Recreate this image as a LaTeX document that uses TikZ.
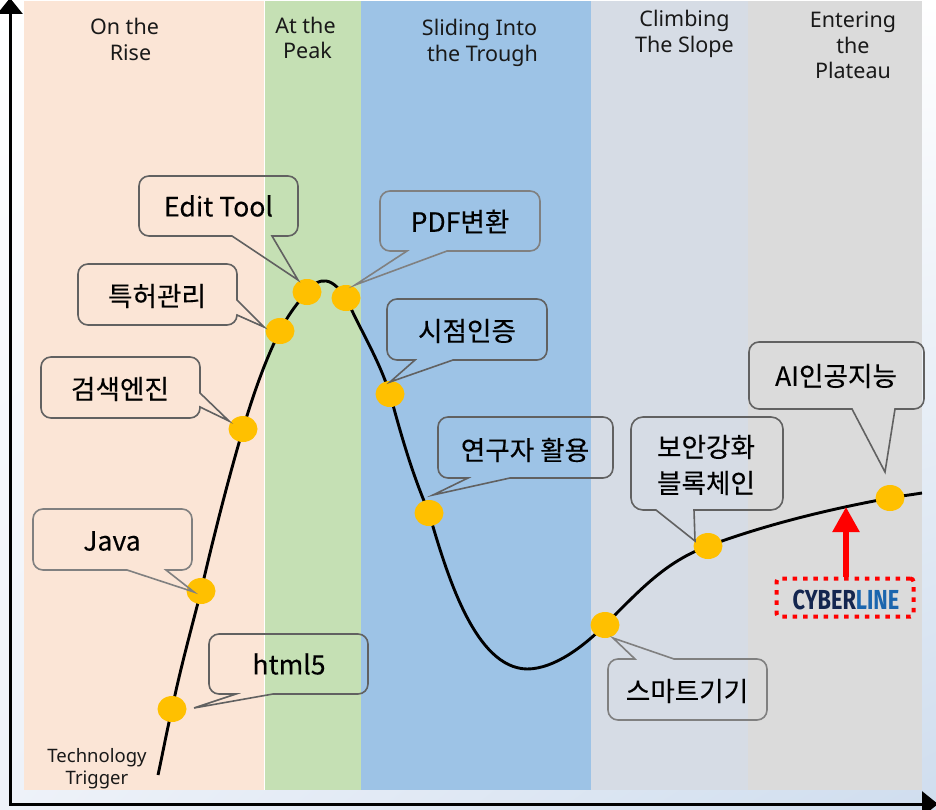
\documentclass[tikz,border=0pt]{standalone}
\usepackage{fontspec}
\setmainfont{Noto Sans}
\newfontfamily\kr[FakeBold=0.25]{Noto Sans CJK KR}
\newfontfamily\logo{Fira Sans}
\usetikzlibrary{arrows.meta,shapes.geometric,shadings}
\definecolor{cpink}{HTML}{FBE5D6}
\definecolor{cgreen}{HTML}{C5E0B4}
\definecolor{cblue}{HTML}{9DC3E6}
\definecolor{cslate}{HTML}{D6DCE5}
\definecolor{cgray}{HTML}{DBDBDB}
\definecolor{cdot}{HTML}{FFC000}
\definecolor{cnavy}{HTML}{14264F}
\definecolor{cline}{HTML}{1B66AE}
\definecolor{bgcorner}{HTML}{CFDDEE}
\definecolor{bgleft}{HTML}{EEF2F9}
\tikzset{
  x=1pt,y=-1pt,
  panel/.style={fill=#1,draw=none},
  axisline/.style={line width=3pt,black,-{Triangle[length=16pt,width=25pt]}},
  curveline/.style={line width=2.9pt,black,line cap=butt},
  dot/.style={ellipse,fill=cdot,draw=none,minimum width=29pt,minimum height=26pt,inner sep=0pt},
  callout/.style={draw=#1,line width=1.6pt,line join=miter},
  callout/.default={black!62},
  ctext/.style={font=\kr\fontsize{26.6}{36}\selectfont,inner sep=0pt,align=center,text=black},
  phase/.style={font=\fontsize{21.5}{25.5}\selectfont,inner sep=0pt,align=center,text=black!90},
}
\begin{document}
\begin{tikzpicture}
\useasboundingbox (0,0) rectangle (936,810);
\shade[upper left=white,upper right=white,lower left=bgleft,lower right=bgcorner] (0,0) rectangle (936,810);
% panels
\fill[panel=cpink] (24,1) rectangle (263.5,790);
\fill[white] (263.5,1) rectangle (265,790);
\fill[panel=cgreen] (265,1) rectangle (361,790);
\fill[panel=cblue] (361,1) rectangle (591,790);
\fill[panel=cslate] (591,1) rectangle (748,790);
\fill[panel=cgray] (748,1) rectangle (922,790);
% axes
\coordinate (origin) at (10,804);
\coordinate (ytip) at (10,-2);
\coordinate (xtip) at (938,804);
\draw[axisline] (10,805.5) -- (ytip);
\draw[axisline] (origin) -- (xtip);
% anchor points on the curve
\coordinate (c1) at (172,709);
\coordinate (c2) at (201,591);
\coordinate (c3) at (243,429);
\coordinate (c4) at (280,331);
\coordinate (c5) at (307,292);
\coordinate (c6) at (346,298);
\coordinate (c7) at (390,394);
\coordinate (c8) at (429,513);
\coordinate (c9) at (605,625);
\coordinate (c10) at (708,546);
\coordinate (c11) at (890,498);
\coordinate (start) at (158,775);
\coordinate (end) at (922,493);
% curve
\draw[curveline] (start) .. controls (163,752) and (167,730) .. (c1)
  .. controls (180,670) and (191,630) .. (c2)
  .. controls (214,535) and (228,480) .. (c3)
  .. controls (253,395) and (266,358) .. (c4)
  .. controls (288,315) and (298,302) .. (c5)
  .. controls (312,284) and (320,280) .. (326,281)
  .. controls (334,282) and (340,290) .. (c6)
  .. controls (363,335) and (378,358) .. (c7)
  .. controls (405,450) and (415,480) .. (c8)
  .. controls (447,575) and (475,668) .. (527,669)
  .. controls (555,669) and (585,645) .. (c9)
  .. controls (640,590) and (665,562) .. (c10)
  .. controls (765,525) and (825,510) .. (c11)
  .. controls (900,496) and (910,495) .. (end);
% dots
\foreach \i in {1,...,11} \node[dot] (d\i) at (c\i) {};
% callouts
\draw[callout] (298,280) -- (232,236) [rounded corners=10pt] -- (139,236) -- (139,176) -- (298,176) -- (298,236) [sharp corners] -- (272,236) -- cycle;
\draw[callout] (264,327) -- (237,315) [rounded corners=10pt] -- (237,325) -- (78,325) -- (78,264) -- (237,264) [sharp corners] -- (237,300) -- cycle;
\draw[callout] (229,421) -- (200,407) [rounded corners=10pt] -- (200,418) -- (41,418) -- (41,357) -- (200,357) [sharp corners] -- (200,393) -- cycle;
\draw[callout=black!50] (194,592) -- (127,570) [rounded corners=10pt] -- (33,570) -- (33,509) -- (192,509) -- (192,570) [sharp corners] -- (166,570) -- cycle;
\draw[callout] (194,708) -- (236,694) [rounded corners=10pt] -- (209,694) -- (209,634) -- (368,634) -- (368,694) [sharp corners] -- (273,694) -- cycle;
\draw[callout=black!50] (355,285) -- (407,251) [rounded corners=10pt] -- (380,251) -- (380,191) -- (540,191) -- (540,251) [sharp corners] -- (447,251) -- cycle;
\draw[callout] (390,382) -- (415,360) [rounded corners=10pt] -- (387,360) -- (387,299) -- (547,299) -- (547,360) [sharp corners] -- (453,360) -- cycle;
\draw[callout] (433,495) -- (468,478) [rounded corners=10pt] -- (438,478) -- (438,417) -- (613,417) -- (613,478) [sharp corners] -- (510,478) -- cycle;
\draw[callout] (695,541) -- (656,510) [rounded corners=12pt] -- (631,510) -- (631,417) -- (783,417) -- (783,510) [sharp corners] -- (694,510) -- cycle;
\draw[callout=black!50] (613,638) -- (635,659) [rounded corners=10pt] -- (608,659) -- (608,720) -- (767,720) -- (767,659) [sharp corners] -- (674,659) -- cycle;
\draw[callout] (885,472) -- (852,409) [rounded corners=10pt] -- (749,409) -- (749,342) -- (924,342) -- (924,409) [sharp corners] -- (895,409) -- cycle;
% callout texts
\node[ctext] (t1) at (218.5,206) {Edit Tool};
\node[ctext] (t2) at (157,296) {특허관리};
\node[ctext] (t3) at (120,389) {검색엔진};
\node[ctext] (t4) at (112,541) {Java};
\node[ctext] (t5) at (289,664) {html5};
\node[ctext] (t6) at (460,221.5) {PDF변환};
\node[ctext] (t7) at (467,331) {시점인증};
\node[ctext] (t8) at (525,450) {연구자 활용};
\node[ctext] (t9) at (706,465) {보안강화\\블록체인};
\node[ctext] (t10) at (687,691) {스마트기기};
\node[ctext] (t11) at (836,376) {AI인공지능};
% phases
\node[phase] (p1) at (124.5,39.5) {On the\\\hspace*{12pt}Rise};
\node[phase] (p2) at (305.5,38) {At the\\\hspace*{4pt}Peak};
\node[phase] (p3) at (479.5,43) {Sliding Into\\\hspace*{6pt}the Trough};
\node[phase] (p4) at (684.5,34) {Climbing\\The Slope};
\node[phase] (p5) at (853,45.5) {Entering\\the\\Plateau};
\node[phase,font=\fontsize{18.5}{22}\selectfont] (p6) at (97,768.5) {Technology\\Trigger};
% logo
\node[draw=red,line width=4pt,dash pattern=on 4.5pt off 5.8pt,rounded corners=3pt,minimum width=137pt,minimum height=38pt,inner sep=0pt] (logo) at (845,597.5) {};
\node[inner sep=0pt,xscale=.79,font=\logo\bfseries\fontsize{27.5}{30}\selectfont] (logotext) at (846,600) {\textcolor{cnavy}{CYBER}\textcolor{cline}{LINE}};
\coordinate (arrowtip) at (846,507);
\draw[red,line width=5.5pt,-{Triangle[length=25pt,width=26pt]}] (logo.north -| arrowtip) -- (arrowtip);
\end{tikzpicture}
\end{document}
